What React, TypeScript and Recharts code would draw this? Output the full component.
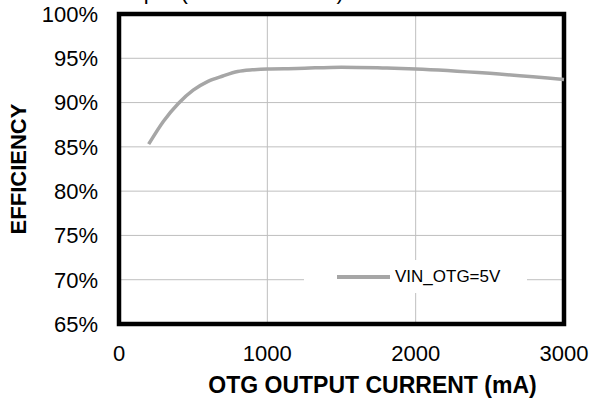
import React from 'react';
import {
  LineChart,
  Line,
  XAxis,
  YAxis,
  CartesianGrid,
  ReferenceArea,
  Legend,
} from 'recharts';

const currentMA = [200, 300, 400, 500, 600, 700, 800, 900, 1000, 1200, 1500, 1800, 2000, 2500, 3000];
const efficiency = [85.3, 87.9, 89.9, 91.4, 92.4, 93.0, 93.5, 93.7, 93.8, 93.85, 94.0, 93.9, 93.8, 93.3, 92.6];
const xTicks = [0, 1000, 2000, 3000];
const yTicks = [65, 70, 75, 80, 85, 90, 95, 100];
const seriesName = 'VIN_OTG=5V';
const chartTitle = 'Boost Output (VBUS = 5.00 V)';
const xTitle = 'OTG OUTPUT CURRENT (mA)';
const yTitle = 'EFFICIENCY';

const data = currentMA.map((c, i) => ({ current: c, eff: efficiency[i] }));

const FONT = '"Liberation Sans", Arial, sans-serif';
const LINE_COLOR = '#a6a6a6';

const LegendContent = () => (
  <div
    style={{
      display: 'flex',
      alignItems: 'center',
      height: 33,
      fontFamily: FONT,
      fontSize: 17,
      color: '#000',
    }}
  >
    <div style={{ width: 53, height: 4, background: LINE_COLOR, marginLeft: 33, marginRight: 5 }} />
    <span>{seriesName}</span>
  </div>
);

export default function App() {
  return (
    <div style={{ position: 'absolute', left: 0, top: 0, width: 599, height: 403, background: '#fff', overflow: 'hidden' }}>
      <div
        style={{
          position: 'absolute',
          left: 46,
          top: -21,
          fontFamily: FONT,
          fontSize: 22,
          whiteSpace: 'nowrap',
          color: '#000',
        }}
      >
        {chartTitle}
      </div>
      <LineChart
        width={599}
        height={403}
        data={data}
        margin={{ top: 14, right: 35, bottom: 0, left: 0 }}
      >
        <CartesianGrid stroke="#bfbfbf" strokeWidth={1} />
        <XAxis
          dataKey="current"
          type="number"
          domain={[0, 3000]}
          ticks={xTicks}
          axisLine={false}
          tickLine={false}
          tickSize={6}
          tickMargin={15}
          height={79}
          tick={{ fill: '#000', fontSize: 22, fontFamily: FONT }}
        />
        <YAxis
          type="number"
          domain={[65, 100]}
          ticks={yTicks}
          axisLine={false}
          tickLine={false}
          tickSize={6}
          tickMargin={15}
          width={119}
          tickFormatter={(v: number) => `${v}%`}
          tick={{ fill: '#000', fontSize: 22, fontFamily: FONT }}
        />
        <Line
          type="monotone"
          dataKey="eff"
          name={seriesName}
          stroke={LINE_COLOR}
          strokeWidth={3.5}
          dot={false}
          isAnimationActive={false}
        />
        <ReferenceArea
          x1={0}
          x2={3000}
          y1={65}
          y2={100}
          fill="none"
          fillOpacity={0}
          stroke="#000"
          strokeWidth={4.5}
          strokeOpacity={1}
          ifOverflow="visible"
        />
        <Legend
          layout="horizontal"
          verticalAlign="middle"
          align="center"
          content={<LegendContent />}
          wrapperStyle={{ position: 'absolute', left: 304, top: 260, width: 223, height: 33, background: '#fff' }}
        />
      </LineChart>
      <div
        style={{
          position: 'absolute',
          left: 205,
          top: 372,
          width: 335,
          textAlign: 'center',
          fontFamily: FONT,
          fontWeight: 'bold',
          fontSize: 23,
          whiteSpace: 'nowrap',
          color: '#000',
        }}
      >
        {xTitle}
      </div>
      <div
        style={{
          position: 'absolute',
          left: 19,
          top: 169,
          transform: 'translate(-50%, -50%) rotate(-90deg)',
          fontFamily: FONT,
          fontWeight: 'bold',
          fontSize: 22,
          whiteSpace: 'nowrap',
          color: '#000',
        }}
      >
        {yTitle}
      </div>
    </div>
  );
}
